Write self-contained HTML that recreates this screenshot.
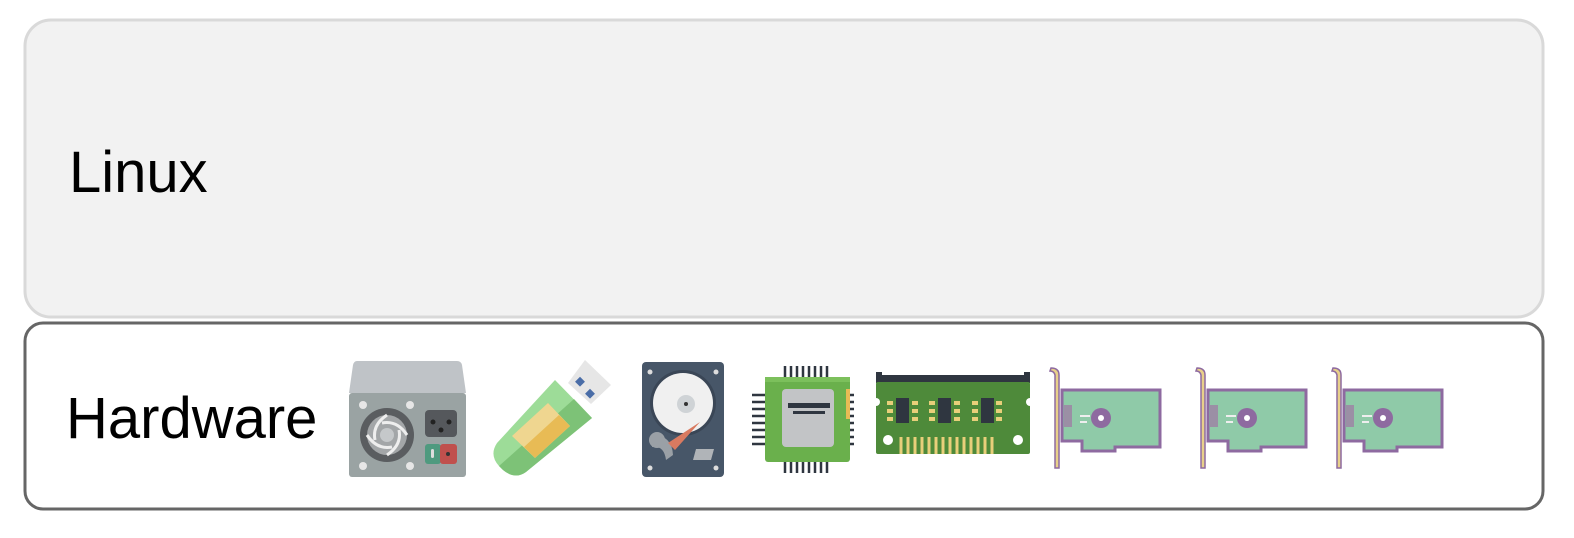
<!DOCTYPE html>
<html><head><meta charset="utf-8"><style>
html,body{margin:0;padding:0;background:#fff;width:1574px;height:538px;overflow:hidden}
svg{display:block}
text{font-family:"Liberation Sans",Arial,sans-serif;font-size:58px;fill:#000}
</style></head><body>
<svg width="1574" height="538" viewBox="0 0 1574 538" xmlns="http://www.w3.org/2000/svg">
<rect x="25" y="20" width="1518" height="297" rx="26" fill="#f2f2f2" stroke="#d9d9d9" stroke-width="3"/>
<text x="69" y="192">Linux</text>
<rect x="25" y="323" width="1518" height="186" rx="18" fill="#fff" stroke="#666" stroke-width="3"/>
<text x="66" y="438">Hardware</text>

<!-- PSU -->
<g>
<path d="M357 361 H457 Q461 361 462 365 L466 393 H349 L353 365 Q354 361 357 361Z" fill="#bfc3c7"/>
<rect x="349" y="393" width="117" height="84" rx="3" fill="#9aa3a3"/>
<circle cx="363" cy="405" r="4" fill="#e6e6e6"/><circle cx="410" cy="405" r="4" fill="#e6e6e6"/>
<circle cx="363" cy="466" r="4" fill="#e6e6e6"/><circle cx="410" cy="466" r="4" fill="#e6e6e6"/>
<circle cx="387" cy="435" r="27" fill="#5a5d60"/>
<circle cx="387" cy="435" r="20" fill="#a3a6a8"/>
<path d="M387 415 Q372 425 375 440 M407 435 Q397 420 382 423 M387 455 Q402 445 399 430 M367 435 Q377 450 392 447" stroke="#eee" stroke-width="3" fill="none"/>
<circle cx="387" cy="435" r="7" fill="#c5c8ca"/>
<rect x="425" y="410" width="32" height="27" rx="4" fill="#55585c"/>
<circle cx="433" cy="422" r="2.5" fill="#222"/><circle cx="449" cy="422" r="2.5" fill="#222"/><circle cx="441" cy="430" r="2.5" fill="#222"/>
<rect x="425" y="444" width="16" height="20" rx="3" fill="#4f9a7f"/>
<rect x="440" y="444" width="17" height="20" rx="3" fill="#c0504d"/>
<rect x="431" y="449" width="3" height="9" rx="1.5" fill="#ddd"/><circle cx="448" cy="454" r="2" fill="#333"/>
</g>

<!-- USB -->
<g>
<polygon points="568,383 585,360 611,385 591,404" fill="#e6e6e6"/>
<rect x="577" y="378" width="7" height="7" fill="#4a6da7" transform="rotate(45 580 381)"/>
<rect x="587" y="390" width="7" height="7" fill="#4a6da7" transform="rotate(45 590 393)"/>
<path d="M555 380 L592 418 L526 472 Q515 480 503 470 L499 466 Q489 455 497 443 Z" fill="#9ddc98"/>
<path d="M574 399 L592 418 L526 472 Q515 480 503 470 L499 466 Z" fill="#7abf73" opacity="0.9"/>
<polygon points="548,403 570,426 535,458 512,436" fill="#efd690"/>
<polygon points="559,415 570,426 535,458 524,447" fill="#e8bb55"/>
</g>

<!-- HDD -->
<g>
<rect x="642" y="362" width="82" height="115" rx="4" fill="#475668"/>
<circle cx="650" cy="372" r="2.5" fill="#ddd"/><circle cx="716" cy="372" r="2.5" fill="#ddd"/>
<circle cx="650" cy="468" r="2.5" fill="#ddd"/><circle cx="716" cy="468" r="2.5" fill="#ddd"/>
<circle cx="683" cy="403" r="33" fill="#3a4656"/>
<circle cx="683" cy="403" r="30" fill="#f0f0f0"/>
<circle cx="686" cy="404" r="9" fill="#cfd3d6"/><circle cx="686" cy="404" r="2" fill="#333"/>
<path d="M652 435 Q672 435 673 455 L666 460 Q664 445 652 447Z" fill="#9aa0a6"/>
<circle cx="657" cy="440" r="8" fill="#9aa0a6"/>
<polygon points="700,422 675,450 668,443" fill="#d97a60"/>
<polygon points="696,449 714,449 711,460 693,460" fill="#b0b4b8"/>
</g>

<!-- CPU -->
<rect x="765" y="377" width="85" height="85" rx="3" fill="#6ab04c"/>
<g stroke="#2f3640" stroke-width="2.5">
<path d="M785 366v11M791 366v11M797 366v11M803 366v11M809 366v11M815 366v11M821 366v11M827 366v11"/>
<path d="M785 462v11M791 462v11M797 462v11M803 462v11M809 462v11M815 462v11M821 462v11M827 462v11"/>
<path d="M752 395h13M752 402h13M752 409h13M752 416h13M752 423h13M752 430h13M752 437h13M752 444h13"/>
<path d="M850 395h4M850 402h4M850 409h4M850 416h4M850 423h4M850 430h4M850 437h4M850 444h4"/>
</g>
<rect x="765" y="377" width="85" height="5" fill="#7cc05c"/>
<rect x="782" y="389" width="52" height="58" rx="4" fill="#c2c4c6"/>
<rect x="788" y="403" width="42" height="5" fill="#2f3640"/>
<rect x="793" y="411" width="32" height="3" fill="#2f3640"/>
<rect x="846" y="389" width="4" height="30" fill="#e8bb55"/>

<!-- RAM -->
<g>
<rect x="876" y="375" width="154" height="8" fill="#2f3640"/>
<rect x="876" y="372" width="6" height="10" fill="#2f3640"/><rect x="1024" y="372" width="6" height="10" fill="#2f3640"/>
<rect x="876" y="382" width="154" height="72" rx="2" fill="#4e8a3a"/>
<circle cx="876" cy="402" r="4" fill="#fff"/><circle cx="1030" cy="402" r="4" fill="#fff"/>
<g fill="#e8cf7a">
<rect x="887" y="401" width="6" height="4"/><rect x="887" y="409" width="6" height="4"/><rect x="887" y="417" width="6" height="4"/>
<rect x="912" y="401" width="6" height="4"/><rect x="912" y="409" width="6" height="4"/><rect x="912" y="417" width="6" height="4"/>
<rect x="929" y="401" width="6" height="4"/><rect x="929" y="409" width="6" height="4"/><rect x="929" y="417" width="6" height="4"/>
<rect x="954" y="401" width="6" height="4"/><rect x="954" y="409" width="6" height="4"/><rect x="954" y="417" width="6" height="4"/>
<rect x="972" y="401" width="6" height="4"/><rect x="972" y="409" width="6" height="4"/><rect x="972" y="417" width="6" height="4"/>
<rect x="996" y="401" width="6" height="4"/><rect x="996" y="409" width="6" height="4"/><rect x="996" y="417" width="6" height="4"/>
</g>
<g stroke="#e8cf7a" stroke-width="3"><path d="M901 437v17M908 437v17M915 437v17M922 437v17M929 437v17M936 437v17M943 437v17M950 437v17M957 437v17M964 437v17M971 437v17M978 437v17M985 437v17M992 437v17"/></g>
<g fill="#2f3640"><rect x="896" y="398" width="13" height="25"/><rect x="938" y="398" width="13" height="25"/><rect x="981" y="398" width="13" height="25"/></g>
<circle cx="888" cy="440" r="5" fill="#fff"/><circle cx="1018" cy="440" r="5" fill="#fff"/>
</g>

<!-- NIC cards -->
<g>
<path d="M1062 390 H1160 V447 H1115 V451 H1082 V441 H1062 Z" fill="#8fcaa8" stroke="#8e6aa0" stroke-width="3"/>
<rect x="1064" y="405" width="8" height="22" fill="#9b8fa5"/>
<circle cx="1101" cy="418" r="10" fill="#8e6aa0"/><circle cx="1101" cy="418" r="3" fill="#fff"/>
<rect x="1080" y="415" width="10" height="2" fill="#eee"/><rect x="1080" y="421" width="7" height="2" fill="#eee"/>
<path d="M1051 368 Q1059 368 1059 375 V468 H1055 V375 Q1054 371 1050 371Z" fill="#e8d08a" stroke="#8e6aa0" stroke-width="1.5"/>
</g>
<g transform="translate(146,0)"><path d="M1062 390 H1160 V447 H1115 V451 H1082 V441 H1062 Z" fill="#8fcaa8" stroke="#8e6aa0" stroke-width="3"/>
<rect x="1064" y="405" width="8" height="22" fill="#9b8fa5"/>
<circle cx="1101" cy="418" r="10" fill="#8e6aa0"/><circle cx="1101" cy="418" r="3" fill="#fff"/>
<rect x="1080" y="415" width="10" height="2" fill="#eee"/><rect x="1080" y="421" width="7" height="2" fill="#eee"/>
<path d="M1051 368 Q1059 368 1059 375 V468 H1055 V375 Q1054 371 1050 371Z" fill="#e8d08a" stroke="#8e6aa0" stroke-width="1.5"/></g>
<g transform="translate(282,0)"><path d="M1062 390 H1160 V447 H1115 V451 H1082 V441 H1062 Z" fill="#8fcaa8" stroke="#8e6aa0" stroke-width="3"/>
<rect x="1064" y="405" width="8" height="22" fill="#9b8fa5"/>
<circle cx="1101" cy="418" r="10" fill="#8e6aa0"/><circle cx="1101" cy="418" r="3" fill="#fff"/>
<rect x="1080" y="415" width="10" height="2" fill="#eee"/><rect x="1080" y="421" width="7" height="2" fill="#eee"/>
<path d="M1051 368 Q1059 368 1059 375 V468 H1055 V375 Q1054 371 1050 371Z" fill="#e8d08a" stroke="#8e6aa0" stroke-width="1.5"/></g>
</svg>
</body></html>
